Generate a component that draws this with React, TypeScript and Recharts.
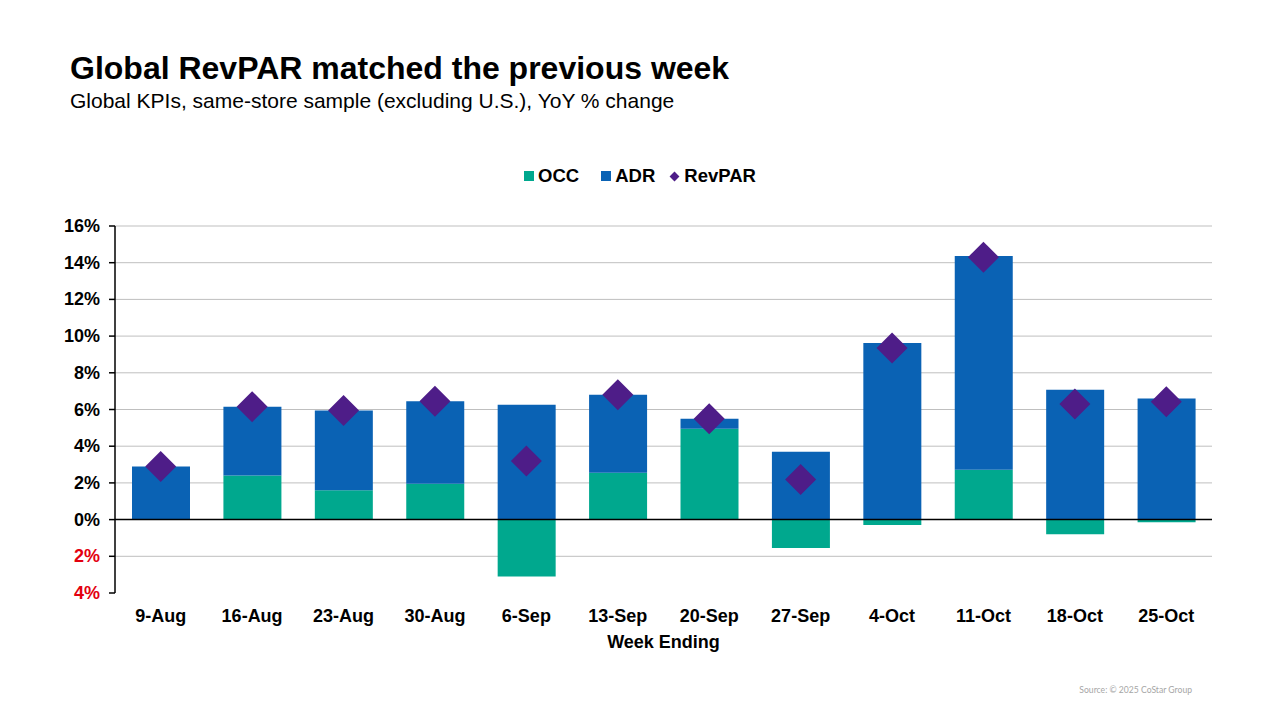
import {
  Bar,
  CartesianGrid,
  ComposedChart,
  ReferenceLine,
  Scatter,
  XAxis,
  YAxis,
} from "recharts";

const weeks = [
  "9-Aug",
  "16-Aug",
  "23-Aug",
  "30-Aug",
  "6-Sep",
  "13-Sep",
  "20-Sep",
  "27-Sep",
  "4-Oct",
  "11-Oct",
  "18-Oct",
  "25-Oct",
];
const occ = [0.0, 2.4, 1.6, 1.95, -3.1, 2.55, 4.95, -1.55, -0.3, 2.72, -0.8, -0.15];
const adr = [2.9, 3.75, 4.35, 4.5, 6.26, 4.25, 0.55, 3.7, 9.63, 11.65, 7.07, 6.6];
const revpar = [2.9, 6.15, 5.95, 6.45, 3.2, 6.8, 5.5, 2.18, 9.35, 14.3, 6.3, 6.42];
const yTicks = [-4, -2, 0, 2, 4, 6, 8, 10, 12, 14, 16];

const OCC_COLOR = "#00A88E";
const ADR_COLOR = "#0A62B4";
const REVPAR_COLOR = "#4E1D88";
const FONT = "'Liberation Sans', Arial, sans-serif";

const data = weeks.map((name, i) => ({
  name,
  occ: occ[i],
  adr: adr[i],
  revpar: revpar[i],
}));

const YTick = (props: any) => {
  const { x, y, payload } = props;
  const v = payload.value;
  return (
    <text
      x={x}
      y={y}
      dy={6}
      textAnchor="end"
      fill={v < 0 ? "#E3000F" : "#000"}
      fontWeight="bold"
      fontSize={18}
      fontFamily={FONT}
    >
      {Math.abs(v)}%
    </text>
  );
};

const XTick = (props: any) => {
  const { x, y, payload } = props;
  return (
    <text
      x={x}
      y={y + 21}
      textAnchor="middle"
      fill="#000"
      fontWeight="bold"
      fontSize={18}
      fontFamily={FONT}
    >
      {payload.value}
    </text>
  );
};

const Diamond = (props: any) => {
  const { cx, cy } = props;
  const r = 15.5;
  return (
    <polygon
      points={`${cx},${cy - r} ${cx + r},${cy} ${cx},${cy + r} ${cx - r},${cy}`}
      fill={REVPAR_COLOR}
    />
  );
};

const App = () => {
  return (
    <div
      style={{
        position: "absolute",
        left: 0,
        top: 0,
        width: 1280,
        height: 720,
        background: "#fff",
        fontFamily: FONT,
      }}
    >
      <div
        style={{
          position: "absolute",
          left: 70,
          top: 52,
          fontSize: 32,
          fontWeight: "bold",
          lineHeight: 1,
          color: "#000",
        }}
      >
        Global RevPAR matched the previous week
      </div>
      <div
        style={{
          position: "absolute",
          left: 70,
          top: 90,
          fontSize: 21,
          lineHeight: 1,
          color: "#000",
        }}
      >
        Global KPIs, same-store sample (excluding U.S.), YoY % change
      </div>

      <div
        style={{
          position: "absolute",
          left: 0,
          top: 167,
          width: 1280,
          display: "flex",
          justifyContent: "center",
          alignItems: "center",
          fontSize: 18.5,
          fontWeight: "bold",
          lineHeight: 1,
          paddingRight: 2,
        }}
      >
        <span style={{ display: "inline-block", width: 10, height: 10, background: OCC_COLOR, marginRight: 4 }} />
        <span style={{ marginRight: 22 }}>OCC</span>
        <span style={{ display: "inline-block", width: 10, height: 10, background: ADR_COLOR, marginRight: 4 }} />
        <span style={{ marginRight: 16 }}>ADR</span>
        <span
          style={{
            display: "inline-block",
            width: 7,
            height: 7,
            background: REVPAR_COLOR,
            transform: "rotate(45deg)",
            marginRight: 6,
          }}
        />
        <span>RevPAR</span>
      </div>

      <ComposedChart
        width={1280}
        height={720}
        data={data}
        stackOffset="sign"
        margin={{ top: 226, right: 68, left: 15, bottom: 67 }}
      >
        <CartesianGrid
          vertical={false}
          stroke="#BFBFBF"
          horizontalValues={[-2, 2, 4, 6, 8, 10, 12, 14, 16]}
        />
        <XAxis
          dataKey="name"
          axisLine={false}
          tickLine={false}
          tick={<XTick />}
          height={60}
          interval={0}
          label={{
            value: "Week Ending",
            position: "insideBottom",
            offset: 5,
            fill: "#000",
            fontSize: 18,
            fontWeight: "bold",
            fontFamily: FONT,
          }}
        />
        <YAxis
          type="number"
          domain={[-4, 16]}
          ticks={yTicks}
          interval={0}
          width={100}
          tick={<YTick />}
          tickMargin={9}
          axisLine={{ stroke: "#000", strokeWidth: 1.5 }}
          tickLine={{ stroke: "#000", strokeWidth: 1.5 }}
        />
        <Bar dataKey="occ" stackId="a" fill={OCC_COLOR} barSize={58} isAnimationActive={false} />
        <Bar dataKey="adr" stackId="a" fill={ADR_COLOR} barSize={58} isAnimationActive={false} />
        <ReferenceLine y={0} stroke="#000" strokeWidth={1.5} />
        <Scatter dataKey="revpar" shape={<Diamond />} isAnimationActive={false} />
      </ComposedChart>

      <div
        style={{
          position: "absolute",
          right: 88,
          top: 686,
          fontSize: 8.6,
          color: "#A6A6A6",
          fontFamily: "Lato, sans-serif",
          lineHeight: 1,
        }}
      >
        Source: © 2025 CoStar Group
      </div>
    </div>
  );
};

export default App;
